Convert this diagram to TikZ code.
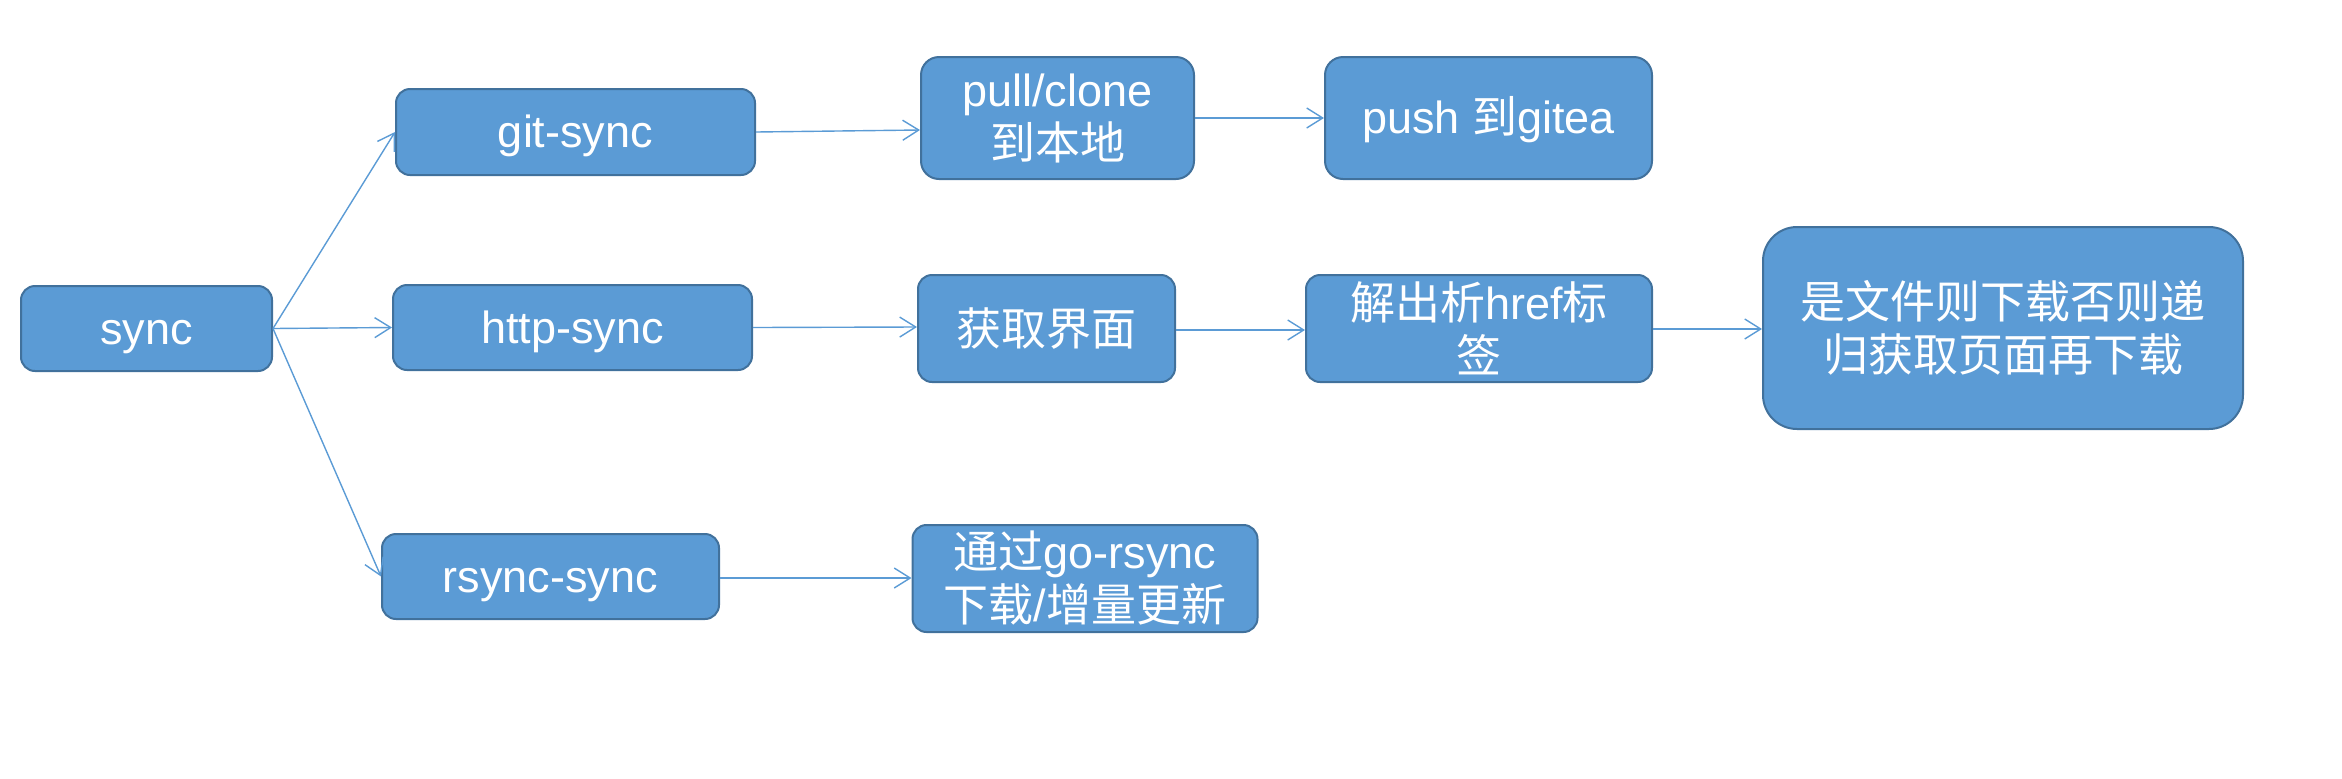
\documentclass[tikz,border=0pt]{standalone}
\usepackage{fontspec}
\setmainfont{Liberation Sans}
\newfontfamily\cjk{Noto Sans CJK SC}
\usetikzlibrary{arrows.meta}
\definecolor{boxfill}{HTML}{5B9BD5}
\definecolor{boxline}{HTML}{41719C}
\definecolor{arrowc}{HTML}{5B9BD5}
\tikzset{
  box/.style={draw=boxline, fill=boxfill, line width=1pt, rounded corners=7pt,
    text=white, align=center, inner sep=0pt, font=\fontsize{22.5}{26.5}\selectfont},
  oneline/.style={text height=20.4pt, text depth=4.8pt},
  conn/.style={draw=arrowc, line width=0.7pt, -{Straight Barb[length=8pt,width=10pt,line width=0.7pt]}},
}
\begin{document}
\begin{tikzpicture}[x=0.5pt,y=-0.5pt]
\useasboundingbox (0,0) rectangle (2342,778);
\node[box, oneline, minimum width=125.5pt, minimum height=42.5pt] (sync) at (146.5,328.5) {sync};
\node[box, oneline, minimum width=179.5pt, minimum height=43pt] (git) at (575.5,132) {git-sync};
\node[box, oneline, minimum width=179.5pt, minimum height=42.5pt] (http) at (572.5,327.5) {http-sync};
\node[box, oneline, minimum width=168.5pt, minimum height=42.5pt] (rsync) at (550.5,576.5) {rsync-sync};
\node[box, minimum width=136.5pt, minimum height=61pt, rounded corners=9pt] (pull) at (1057.5,118) {pull/clone\\{\cjk 到本地}};
\node[box, oneline, minimum width=163.5pt, minimum height=61pt, rounded corners=9pt] (push) at (1488.5,118) {push {\cjk 到}gitea};
\node[box, minimum width=128.5pt, minimum height=53.5pt] (fetch) at (1046.5,328.5) {\cjk 获取界面};
\node[box, minimum width=173pt, minimum height=53.5pt] (parse) at (1479,328.5) {{\cjk 解出析}href{\cjk 标}\\{\cjk 签}};
\node[box, minimum width=240pt, minimum height=101pt, rounded corners=17pt] (big) at (2003,328) {\cjk 是文件则下载否则递\\\cjk 归获取页面再下载};
\node[box, minimum width=172.5pt, minimum height=53.5pt] (gorsync) at (1085,578.5) {{\cjk 通过}go-rsync\\{\cjk 下载}/{\cjk 增量更新}};
\draw[conn] (sync.east) -- (git.west);
\draw[conn] (sync.east) -- (http.west);
\draw[conn] (sync.east) -- (rsync.west);
\draw[conn] (git.east) -- (pull.west |- 0,130);
\draw[conn] (pull.east) -- (push.west);
\draw[conn] (http.east) -- (fetch.west |- 0,327);
\draw[conn] (fetch.east |- 0,330) -- (parse.west |- 0,330);
\draw[conn] (parse.east |- 0,329) -- (big.west |- 0,329);
\draw[conn] (rsync.east |- 0,578) -- (gorsync.west |- 0,578);
\end{tikzpicture}
\end{document}
